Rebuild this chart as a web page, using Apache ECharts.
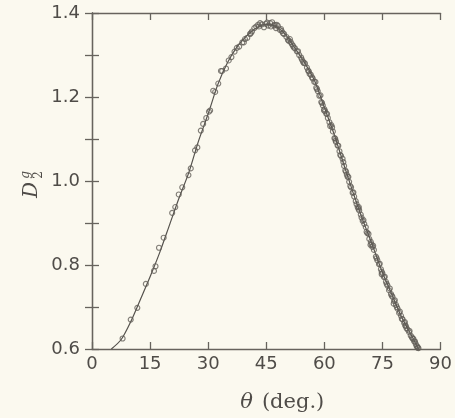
<!DOCTYPE html>
<html><head><meta charset="utf-8">
<script src="https://cdn.jsdelivr.net/npm/echarts@6/dist/echarts.min.js"></script>
<style>html,body{margin:0;padding:0;background:#fbf9ef}#c{width:455px;height:418px}</style>
</head><body><div id="c"></div>
<script>
// Fitted curve (theta in degrees, D2g)
const curveTheta = [5, 7.5, 10, 12.5, 15, 17.5, 20, 22.5, 25, 27.5, 30, 32.5, 35, 37.5, 40, 42.5, 45, 47.5, 50, 52.5, 55, 57.5, 60, 62.5, 65, 67.5, 70, 72.5, 75, 77.5, 80, 82.5, 84.3];
const curveValue = [0.600, 0.622, 0.665, 0.718, 0.772, 0.830, 0.895, 0.960, 1.020, 1.095, 1.160, 1.230, 1.282, 1.320, 1.346, 1.365, 1.373, 1.368, 1.348, 1.315, 1.280, 1.238, 1.175, 1.112, 1.040, 0.970, 0.905, 0.845, 0.782, 0.728, 0.675, 0.632, 0.600];

// Measured points
const pointTheta = [7.9, 10.0, 11.7, 13.9, 16.0, 16.4, 17.3, 18.5, 20.7, 21.5, 22.4, 23.3, 24.9, 25.5, 26.6, 27.2, 28.1, 28.7, 29.5, 30.2, 30.5, 31.3, 31.8, 32.6, 33.3, 33.6, 34.6, 35.3, 36.0, 36.8, 37.4, 38.0, 38.8, 39.5, 40.1, 40.8, 41.3, 41.9, 42.4, 42.9, 43.4, 43.9, 44.4, 44.9, 45.5, 46.0, 46.5, 47.0, 47.5, 48.0, 48.5, 49.0, 49.6, 50.2, 50.8, 51.3, 51.9, 52.4, 52.9, 53.5, 54.0, 54.5, 55.0, 55.5, 56.0, 56.5, 57.0, 57.4, 57.9, 58.3, 58.7, 59.2, 59.6, 60.0, 60.5, 60.9, 61.3, 61.8, 62.2, 62.6, 63.0, 63.4, 63.9, 64.3, 64.7, 65.1, 65.6, 66.0, 66.4, 66.9, 67.3, 67.7, 68.1, 68.6, 69.0, 69.4, 69.9, 70.3, 70.7, 71.1, 71.6, 72.0, 72.4, 72.8, 73.3, 73.7, 74.1, 74.6, 75.0, 75.4, 75.9, 76.3, 76.7, 77.2, 77.6, 78.0, 78.5, 78.9, 79.3, 79.8, 80.2, 80.6, 81.0, 81.5, 81.9, 82.3, 82.8, 83.2, 83.6, 84.0, 84.3, 39.2, 41.0, 43.1, 45.2, 47.2, 49.3, 51.6, 54.2, 56.8, 59.9, 62.9, 65.8, 68.8, 71.9, 74.8, 77.9, 80.9, 83.0, 46.2, 47.7, 48.8, 50.6, 51.1, 52.1, 53.2, 54.7, 55.8, 56.2, 57.7, 58.1, 59.0, 59.4, 60.2, 60.7, 61.5, 62.0, 62.8, 63.6, 64.1, 64.9, 65.4, 66.2, 66.7, 67.5, 68.3, 68.9, 69.6, 70.1, 70.9, 71.4, 72.2, 72.6, 73.5, 74.3, 74.8, 75.6, 76.1, 76.9, 77.4, 78.2, 78.7, 79.5, 80.0, 80.8, 81.2, 82.0, 82.6, 83.4, 83.8, 84.1];
const pointValue = [0.625, 0.670, 0.698, 0.755, 0.786, 0.797, 0.841, 0.865, 0.924, 0.938, 0.968, 0.985, 1.014, 1.030, 1.073, 1.080, 1.120, 1.136, 1.150, 1.165, 1.168, 1.215, 1.212, 1.232, 1.262, 1.262, 1.268, 1.287, 1.295, 1.308, 1.317, 1.320, 1.330, 1.338, 1.341, 1.350, 1.356, 1.364, 1.368, 1.372, 1.376, 1.373, 1.366, 1.374, 1.370, 1.376, 1.378, 1.370, 1.364, 1.369, 1.360, 1.357, 1.350, 1.343, 1.334, 1.331, 1.322, 1.316, 1.309, 1.300, 1.294, 1.284, 1.280, 1.270, 1.261, 1.253, 1.244, 1.236, 1.222, 1.214, 1.203, 1.188, 1.180, 1.171, 1.160, 1.150, 1.140, 1.133, 1.118, 1.102, 1.093, 1.085, 1.071, 1.060, 1.053, 1.036, 1.022, 1.010, 0.998, 0.985, 0.972, 0.963, 0.952, 0.938, 0.930, 0.920, 0.905, 0.898, 0.890, 0.876, 0.862, 0.855, 0.843, 0.836, 0.820, 0.811, 0.802, 0.790, 0.780, 0.771, 0.760, 0.751, 0.740, 0.731, 0.724, 0.714, 0.705, 0.696, 0.686, 0.679, 0.671, 0.662, 0.655, 0.646, 0.640, 0.632, 0.625, 0.618, 0.612, 0.606, 0.602, 1.330, 1.352, 1.368, 1.377, 1.372, 1.352, 1.326, 1.289, 1.247, 1.168, 1.096, 1.015, 0.934, 0.848, 0.778, 0.708, 0.656, 0.624, 1.368, 1.372, 1.362, 1.336, 1.338, 1.318, 1.309, 1.281, 1.263, 1.255, 1.236, 1.219, 1.204, 1.186, 1.166, 1.160, 1.131, 1.128, 1.101, 1.084, 1.062, 1.045, 1.025, 1.010, 0.988, 0.973, 0.945, 0.938, 0.913, 0.907, 0.879, 0.874, 0.849, 0.846, 0.816, 0.803, 0.784, 0.772, 0.755, 0.744, 0.727, 0.716, 0.700, 0.689, 0.672, 0.664, 0.650, 0.643, 0.628, 0.618, 0.607, 0.603];

const xTicks = [0, 15, 30, 45, 60, 75, 90];
const yTickLabels = [0.6, 0.8, 1.0, 1.2, 1.4];

const axisColor = '#67635d';
const labelColor = '#4f4c48';
const chart = echarts.init(document.getElementById('c'), null, {renderer: 'canvas'});

const baseAxis = {
  axisLine: {show: true, lineStyle: {color: axisColor, width: 1.3}},
  axisTick: {show: true, inside: true, length: 7, lineStyle: {color: axisColor, width: 1.3}},
  splitLine: {show: false}
};

chart.setOption({
  backgroundColor: '#fbf9ef',
  animation: false,
  grid: {left: 92, right: 10, top: 13, bottom: 66, containLabel: false},
  xAxis: [
    Object.assign({}, baseAxis, {
      type: 'value', min: 0, max: 90, interval: 15, position: 'bottom',
      axisLabel: {color: labelColor, fontSize: 18, fontFamily: 'DejaVu Sans', margin: 6,
        formatter: v => xTicks.includes(v) ? String(v) : ''},
      name: '{t|θ}{r|(deg.)}', nameLocation: 'middle', nameGap: 43,
      nameTextStyle: {padding: [0, 0, 0, 32], rich: {
        t: {fontFamily: 'DejaVu Serif', fontStyle: 'italic', fontSize: 21, color: labelColor, padding: [0, 9, 0, 0]},
        r: {fontFamily: 'DejaVu Serif', fontSize: 21, color: labelColor}
      }}
    }),
    Object.assign({}, baseAxis, {
      type: 'value', min: 0, max: 90, interval: 15, position: 'top',
      axisLabel: {show: false}
    })
  ],
  yAxis: [
    Object.assign({}, baseAxis, {
      type: 'value', min: 0.6, max: 1.4, interval: 0.1, position: 'left',
      axisLabel: {color: labelColor, fontSize: 18, fontFamily: 'DejaVu Sans', margin: 12,
        formatter: v => {
          const r = Math.round(v * 10) / 10;
          return yTickLabels.some(t => Math.abs(t - r) < 1e-6) ? r.toFixed(1) : '';
        }}
    }),
    Object.assign({}, baseAxis, {
      type: 'value', min: 0.6, max: 1.4, interval: 0.1, position: 'right',
      axisLabel: {show: false}
    })
  ],
  graphic: [{
    type: 'group', x: 32, y: 186, rotation: Math.PI / 2,
    children: [
      {type: 'text', x: -4, y: 0, style: {text: 'D', font: 'italic 20px "DejaVu Serif"', fill: labelColor, align: 'center', verticalAlign: 'middle'}},
      {type: 'text', x: 11, y: -6, style: {text: 'g', font: 'italic 12px "DejaVu Serif"', fill: labelColor, align: 'center', verticalAlign: 'middle'}},
      {type: 'text', x: 11, y: 7, style: {text: '2', font: '12px "DejaVu Serif"', fill: labelColor, align: 'center', verticalAlign: 'middle'}}
    ]
  }],
  series: [
    {
      type: 'line', xAxisIndex: 0, yAxisIndex: 0, smooth: 0.25, showSymbol: false,
      data: curveTheta.map((t, i) => [t, curveValue[i]]),
      lineStyle: {color: '#55524d', width: 1.2}, z: 2
    },
    {
      type: 'scatter', xAxisIndex: 0, yAxisIndex: 0, symbol: 'circle', symbolSize: 5,
      data: pointTheta.map((t, i) => [t, pointValue[i]]),
      itemStyle: {color: 'rgba(0,0,0,0)', borderColor: '#625e58', borderWidth: 1.1}, z: 3
    }
  ]
});
</script>
</body></html>
